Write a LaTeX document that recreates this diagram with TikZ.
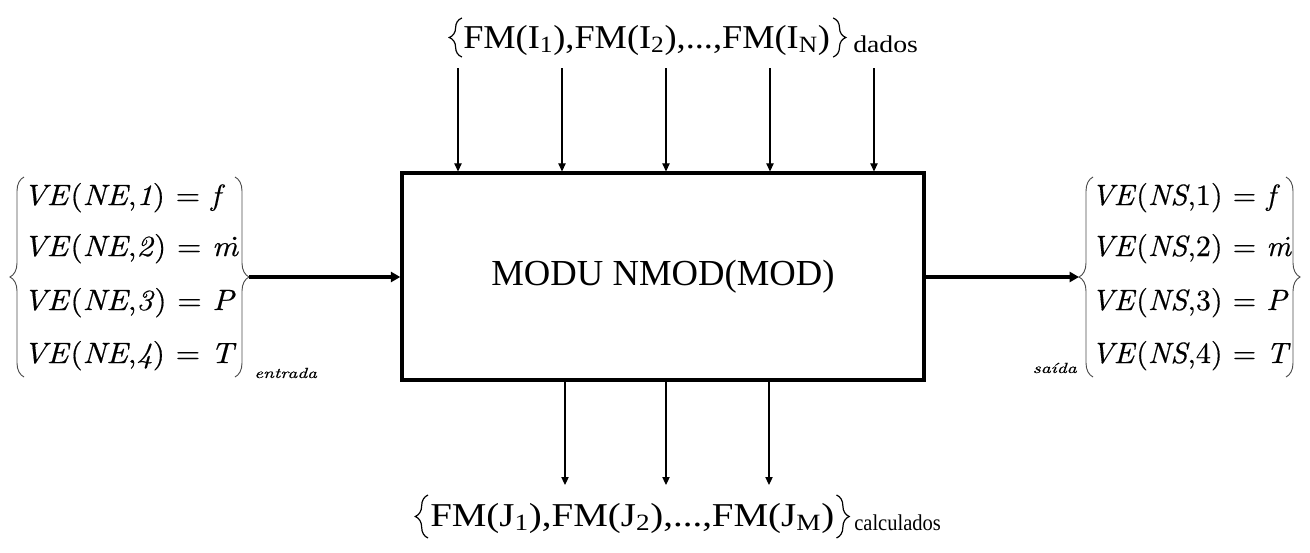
\documentclass[tikz,border=0pt]{standalone}
\usepackage{fontspec}
\newfontfamily\tnr{Liberation Serif}
\newfontfamily\rowfont{lmroman10-regular}[Extension=.otf,ItalicFont=lmroman10-italic,FakeBold=0.4]
\usetikzlibrary{arrows.meta,decorations.pathreplacing}

\tikzset{
  thinarrow/.style={line width=0.8pt,-{Triangle[length=6pt,width=5.5pt]}},
  thickarrow/.style={line width=2.5pt,-{Triangle[length=7pt,width=7.5pt]}},
  mbrace/.style={decorate,decoration={brace,amplitude=10.5pt},line width=0.7pt,gray!60!black},
  setbrace/.style={decorate,decoration={brace,amplitude=9.5pt},line width=0.9pt},
  modbox/.style={draw,line width=2.6pt,minimum width=391.5pt,minimum height=155pt,inner sep=0pt,
    font=\tnr\fontsize{27.5pt}{30pt}\selectfont},
  rowtxt/.style={anchor=base west,inner sep=0pt,font=\rowfont\fontsize{22pt}{26pt}\selectfont},
  flowtxt/.style={anchor=base west,inner sep=0pt,font=\tnr\fontsize{25pt}{30pt}\selectfont},
  settag/.style={anchor=base west,inner sep=0pt,font=\tnr\fontsize{18pt}{20pt}\selectfont},
  tagtxt/.style={anchor=base west,inner sep=0pt,font=\rowfont\fontsize{11pt}{13pt}\selectfont\itshape}
}

\begin{document}
\begin{tikzpicture}[x=0.75pt,y=-0.75pt]
\useasboundingbox (0,0) rectangle (1310,553);

% module block
\node[modbox] (box) at (663,276.5) {MODU NMOD(MOD)};

% given mass flows (top)
\coordinate (ftop) at (0,18);
\coordinate (fbot) at (0,57);
\node[flowtxt] (fin) at (463,48)
  {\resizebox{275pt}{\height}{FM(I\textsubscript{1}),FM(I\textsubscript{2}),...,FM(I\textsubscript{N})}};
\draw[setbrace] ([xshift=-0.8pt]fin.west |- fbot) -- ([xshift=-0.8pt]fin.west |- ftop);
\draw[setbrace] ([xshift=2.2pt]fin.east |- ftop) -- ([xshift=2.2pt]fin.east |- fbot);
\node[settag] (dados) at (853,52) {\resizebox{48.5pt}{\height}{dados}};
\foreach \x [count=\i] in {458,562,666,770,874}{
  \coordinate (t\i) at (\x,68);
  \draw[thinarrow] (t\i) -- (t\i |- box.north);
}

% computed mass flows (bottom)
\coordinate (gtop) at (0,495);
\coordinate (gbot) at (0,538);
\node[flowtxt] (fout) at (430,526)
  {\resizebox{303pt}{\height}{FM(J\textsubscript{1}),FM(J\textsubscript{2}),...,FM(J\textsubscript{M})}};
\draw[setbrace] ([xshift=-1.5pt]fout.west |- gbot) -- ([xshift=-1.5pt]fout.west |- gtop);
\draw[setbrace] ([xshift=1.5pt]fout.east |- gtop) -- ([xshift=1.5pt]fout.east |- gbot);
\node[settag,font=\tnr\fontsize{17pt}{19pt}\selectfont] (calc) at (854,530) {\resizebox{65pt}{\height}{calculados}};
\foreach \x [count=\i] in {565,666,769}{
  \coordinate (b\i) at (\x,485);
  \draw[thinarrow] (b\i |- box.south) -- (b\i);
}

% inlet variables
\node[rowtxt] (l1) at (23,205) {\scalebox{1.08}[1]{\textit{VE}(\textit{NE},\textit{1}) = \textit{f}}};
\node[rowtxt] (l2) at (23,256) {\scalebox{1.08}[1]{\textit{VE}(\textit{NE},\textit{2}) = \textit{\.m}}};
\node[rowtxt] (l3) at (23,310) {\scalebox{1.08}[1]{\textit{VE}(\textit{NE},\textit{3}) = \textit{P}}};
\node[rowtxt] (l4) at (23,363) {\scalebox{1.08}[1]{\textit{VE}(\textit{NE},\textit{4}) = \textit{T}}};
\draw[mbrace] (24,377) -- (24,177);
\draw[mbrace] (235,177) -- (235,377);
\coordinate (inl) at (249,277);
\node[tagtxt] (entrada) at (254,378) {\resizebox{47pt}{\height}{entrada}};

% outlet variables
\node[rowtxt] (r1) at (1091,205) {\scalebox{1.03}[1]{\textit{VE}(\textit{NS},1) = \textit{f}}};
\node[rowtxt] (r2) at (1091,256) {\scalebox{1.03}[1]{\textit{VE}(\textit{NS},2) = \textit{\.m}}};
\node[rowtxt] (r3) at (1091,310) {\scalebox{1.03}[1]{\textit{VE}(\textit{NS},3) = \textit{P}}};
\node[rowtxt] (r4) at (1091,363) {\scalebox{1.03}[1]{\textit{VE}(\textit{NS},4) = \textit{T}}};
\draw[mbrace] (1093,377) -- (1093,177);
\draw[mbrace] (1286,177) -- (1286,377);
\coordinate (outl) at (1079,277);
\node[tagtxt,anchor=base east] (saida) at (1077,373) {\resizebox{33pt}{\height}{saída}};

% main stream connections
\draw[thickarrow] (inl) -- (box.west |- inl);
\draw[thickarrow] (box.east |- outl) -- (outl);
\end{tikzpicture}
\end{document}
